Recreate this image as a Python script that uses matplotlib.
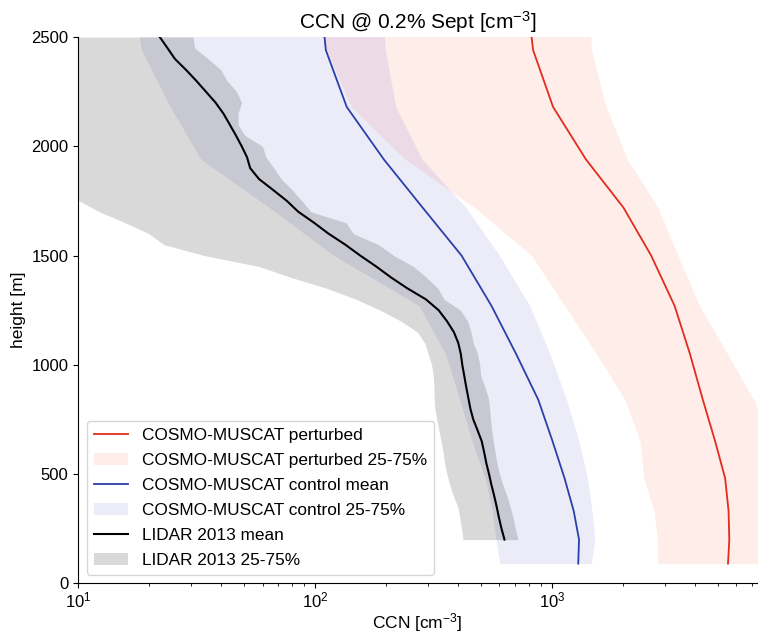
import numpy as np
import matplotlib
matplotlib.use('Agg')
import matplotlib.pyplot as plt

plt.rcParams['font.family'] = ['Liberation Sans', 'DejaVu Sans']
plt.rcParams['mathtext.fontset'] = 'custom'
plt.rcParams['mathtext.rm'] = 'Liberation Sans'
plt.rcParams['mathtext.it'] = 'Liberation Sans:italic'
plt.rcParams['mathtext.bf'] = 'Liberation Sans:bold'

# model levels [m]
h_mod = [90, 200, 330, 480, 650, 840, 1050, 1270, 1500, 1720, 1940, 2180, 2440, 2700]

# COSMO-MUSCAT perturbed
pert_mean = [5530, 5600, 5560, 5380, 4880, 4330, 3820, 3290, 2620, 2000, 1390, 1010, 832, 780]
pert_25 = [2800, 2780, 2700, 2440, 2350, 2030, 1540, 1130, 820, 470, 240, 142, 112, 95]
pert_75 = [10000, 10000, 9800, 9300, 8500, 7100, 5500, 4200, 3400, 2800, 2080, 1690, 1470, 1420]

# COSMO-MUSCAT control
ctrl_mean = [1290, 1300, 1235, 1130, 1005, 875, 705, 555, 415, 284, 195, 136, 111, 105]
ctrl_25 = [601, 580, 560, 522, 460, 408, 355, 275, 120, 64, 33, 24.5, 18.5, 17]
ctrl_75 = [1466, 1514, 1475, 1410, 1300, 1150, 980, 805, 600, 433, 283, 219, 198, 190]

# LIDAR 2013, 50 m steps from 200 m to 2500 m
h_lidar = list(range(200, 2550, 50))
lidar_mean = [630, 612, 597, 584, 570, 555, 542, 528, 517, 505,
              485, 465, 452, 443, 434, 426, 418, 412, 402, 385,
              360, 332, 293, 245, 209, 181, 155, 134, 114, 99,
              85, 76, 66.5, 58, 53.2, 51.6, 49, 46.3, 43.6, 41,
              38, 34.6, 31.5, 28.5, 25.6, 23.8, 22.1]
lidar_25 = [421, 415, 408, 400, 383, 370, 360, 352, 347, 340,
            333, 326, 320, 318, 317, 315, 310, 300, 290, 270,
            230, 188, 149, 112, 79, 58, 34, 23, 19.9, 15.8,
            12.3, 10.1, 6, 5, 5, 5, 5, 5, 5, 5,
            5, 5, 5, 5, 5, 5, 5]
lidar_75 = [719, 700, 685, 665, 645, 620, 600, 585, 575, 565,
            556, 550, 545, 538, 520, 500, 495, 485, 465, 455,
            440, 410, 350, 330, 295, 260, 215, 185, 145, 135,
            96, 88, 80, 72, 67, 62, 60, 50.5, 47.3, 47.3,
            48.9, 46.6, 42.5, 40, 35.4, 31, 30.5]

red = '#e32b1e'
blue = '#2b3fa8'

fig = plt.figure(figsize=(7.59, 6.33), dpi=100)
ax = fig.add_axes([0.103, 0.0785, 0.894, 0.863])

ax.plot(pert_mean, h_mod, color=red, lw=1.3, label='COSMO-MUSCAT perturbed')
ax.fill_betweenx(h_mod, pert_25, pert_75, color='#ff6040', alpha=0.11, lw=0,
                 label='COSMO-MUSCAT perturbed 25-75%')
ax.plot(ctrl_mean, h_mod, color=blue, lw=1.3, label='COSMO-MUSCAT control mean')
ax.fill_betweenx(h_mod, ctrl_25, ctrl_75, color='#3030c0', alpha=0.09, lw=0,
                 label='COSMO-MUSCAT control 25-75%')
ax.plot(lidar_mean, h_lidar, color='k', lw=1.5, label='LIDAR 2013 mean')
ax.fill_betweenx(h_lidar, lidar_25, lidar_75, color='k', alpha=0.15, lw=0,
                 label='LIDAR 2013 25-75%')

ax.set_xscale('log')
ax.set_xlim(10, 7310)
ax.set_ylim(0, 2500)
ax.set_yticks([0, 500, 1000, 1500, 2000, 2500])
ax.spines['top'].set_visible(False)
ax.spines['right'].set_visible(False)
ax.tick_params(labelsize=12)
ax.tick_params(axis='x', pad=2)

ax.set_xlabel('CCN [cm$^{-3}$]', fontsize=12.5, labelpad=0)
ax.set_ylabel('height [m]', fontsize=12.5)
ax.set_title('CCN @ 0.2% Sept [cm$^{-3}$]', fontsize=15)

ax.legend(loc='lower left', fontsize=12.4, labelspacing=0.58)

fig.savefig('out.png', dpi=100)
